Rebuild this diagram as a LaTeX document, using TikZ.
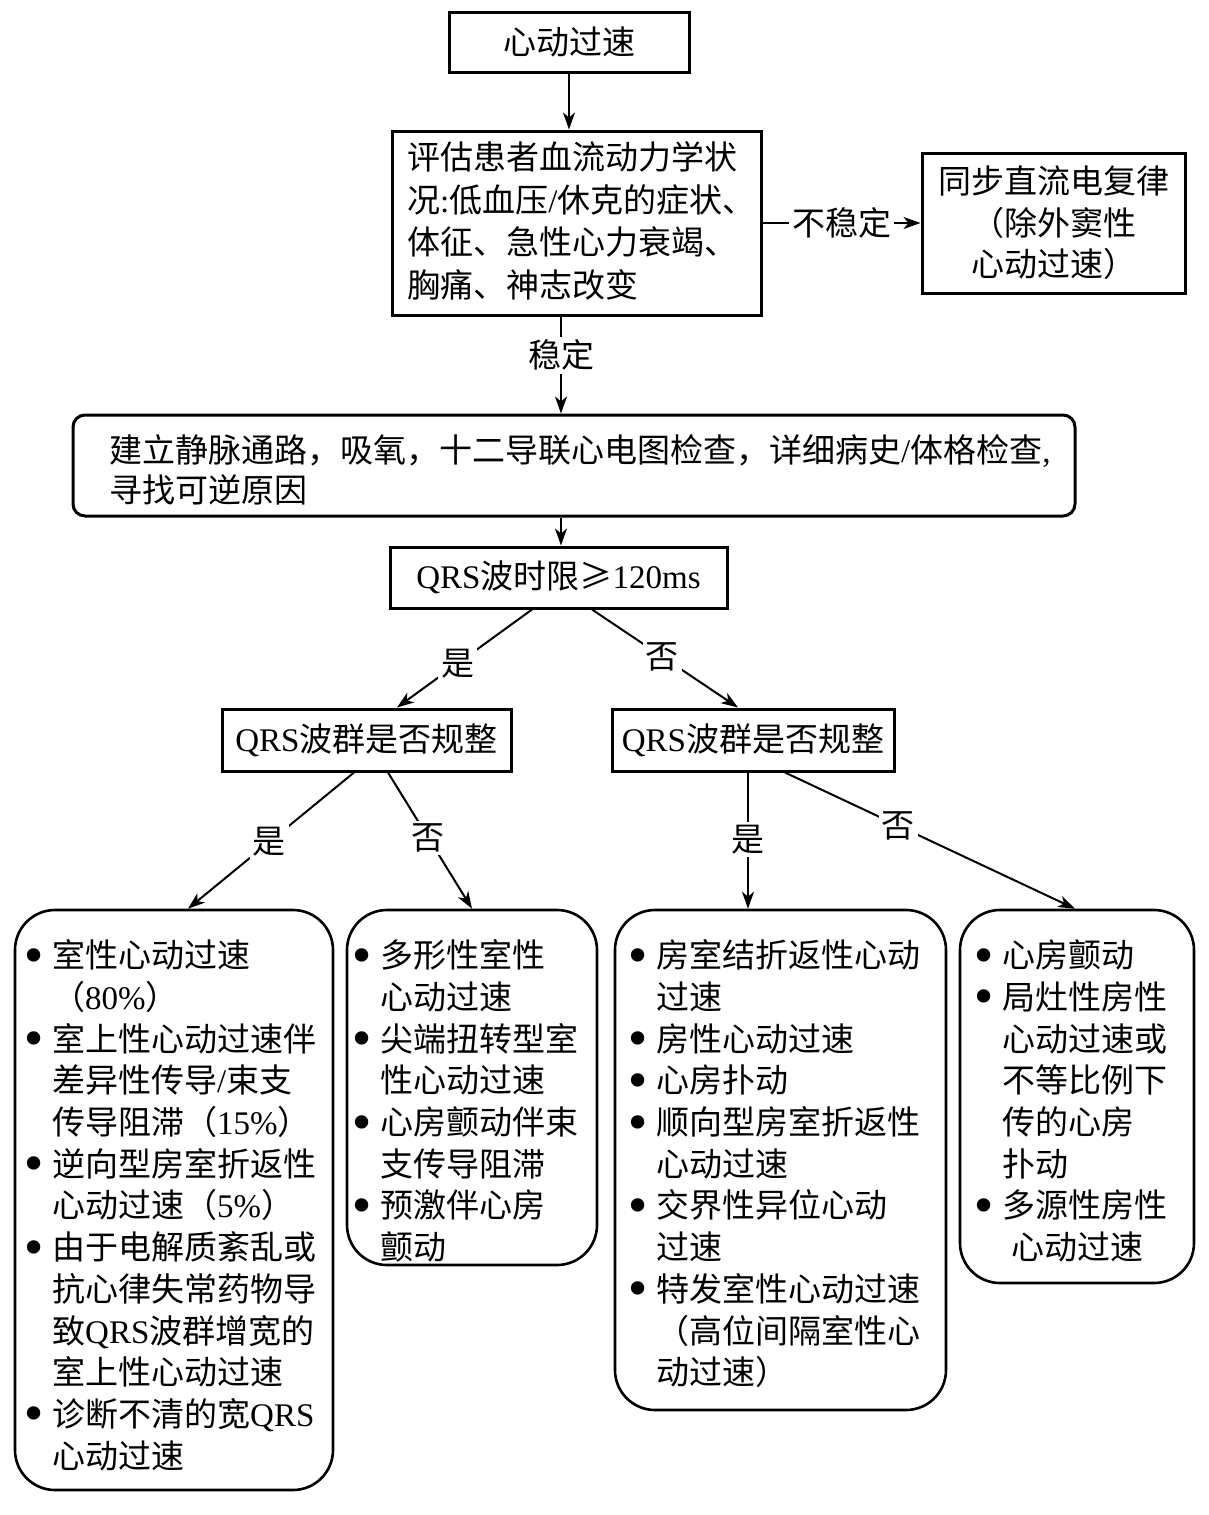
\documentclass[tikz,border=0pt]{standalone}
\usepackage{fontspec}
\setmainfont{Noto Sans CJK SC}
\newfontfamily\lat{Liberation Serif}
\newfontfamily\dejavu{DejaVu Sans}
\usetikzlibrary{arrows.meta}
\newcommand{\fsz}{\fontsize{33}{41.7}\selectfont}
\newcommand{\la}[1]{{\lat #1}}
\newcommand{\bl}{\makebox[36pt][c]{\raisebox{-4.5pt}{\dejavu\fontsize{46}{46}\selectfont\char"2022}}}
\newcommand{\ind}{\hspace*{36pt}}
\tikzset{
  box/.style={draw, line width=3pt, inner sep=0pt},
  rbox/.style={draw, line width=2.6pt, rounded corners=40pt, inner sep=0pt},
  txt/.style={inner sep=0pt, align=left, anchor=north west},
  arr/.style={line width=2pt, -{Stealth[length=17pt,width=12pt,inset=5pt]}},
  lbl/.style={fill=white, inner sep=3pt}
}
\begin{document}
\begin{tikzpicture}[x=1pt,y=-1pt,font=\fsz]
\path[use as bounding box, fill=white] (0,0) rectangle (1208,1515);

% boxes
\node[box, minimum width=240pt, minimum height=60pt] (b1) at (569,42) {心动过速};
\node[box, minimum width=369pt, minimum height=184pt] (b2) at (576.5,223) {};
\node[txt, font=\fontsize{33}{42.5}\selectfont] (t2) at (407,139.8)
  {\strut 评估患者血流动力学状\\况\la{:}低血压\la{/}休克的症状、\\体征、急性心力衰竭、\\胸痛、神志改变};
\node[box, minimum width=263pt, minimum height=140pt, align=center, font=\fontsize{33}{41.5}\selectfont] (b3) at (1053.5,223)
  {同步直流电复律\\（除外窦性\\心动过速）};
\node[box, rounded corners=12pt, minimum width=1002pt, minimum height=101pt] (b4) at (574,465.5) {};
\node[txt, font=\fontsize{33}{40}\selectfont] (t4) at (109,434.5)
  {\strut 建立静脉通路，吸氧，十二导联心电图检查，详细病史\la{/}体格检查\la{,}\\寻找可逆原因};
\node[box, minimum width=337pt, minimum height=61pt] (b5) at (558.5,577.5) {\la{QRS}波时限≥\la{120ms}};
\node[box, minimum width=289pt, minimum height=62pt] (b6) at (366.5,740) {\la{QRS}波群是否规整};
\node[box, minimum width=282pt, minimum height=62pt] (b7) at (753,740) {\la{QRS}波群是否规整};

\node[rbox, minimum width=318pt, minimum height=580pt] (bA) at (174,1200) {};
\node[rbox, minimum width=250pt, minimum height=355pt] (bB) at (472,1087.5) {};
\node[rbox, minimum width=331pt, minimum height=500pt] (bC) at (780.5,1160) {};
\node[rbox, minimum width=234pt, minimum height=373pt] (bD) at (1077,1096.5) {};

\node[txt] (tA) at (16,938.3)
  {\strut\bl 室性心动过速\\
   \ind（\la{80\%}）\\
   \bl 室上性心动过速伴\\
   \ind 差异性传导\la{/}束支\\
   \ind 传导阻滞（\la{15\%}）\\
   \bl 逆向型房室折返性\\
   \ind 心动过速（\la{5\%}）\\
   \bl 由于电解质紊乱或\\
   \ind 抗心律失常药物导\\
   \ind 致\la{QRS}波群增宽的\\
   \ind 室上性心动过速\\
   \bl 诊断不清的宽\la{QRS}\\
   \ind 心动过速};
\node[txt] (tB) at (344,938.3)
  {\strut\bl 多形性室性\\
   \ind 心动过速\\
   \bl 尖端扭转型室\\
   \ind 性心动过速\\
   \bl 心房颤动伴束\\
   \ind 支传导阻滞\\
   \bl 预激伴心房\\
   \ind 颤动};
\node[txt] (tC) at (620,938.3)
  {\strut\bl 房室结折返性心动\\
   \ind 过速\\
   \bl 房性心动过速\\
   \bl 心房扑动\\
   \bl 顺向型房室折返性\\
   \ind 心动过速\\
   \bl 交界性异位心动\\
   \ind 过速\\
   \bl 特发室性心动过速\\
   \ind（高位间隔室性心\\
   \ind 动过速）};
\node[txt] (tD) at (966,938.3)
  {\strut\bl 心房颤动\\
   \bl 局灶性房性\\
   \ind 心动过速或\\
   \ind 不等比例下\\
   \ind 传的心房\\
   \ind 扑动\\
   \bl 多源性房性\\
   \hspace*{45pt}心动过速};

% connectors
\draw[arr] (b1.south) -- (b1.south |- b2.north);
\draw[arr] (b2.east) -- node[lbl]{不稳定} (b3.west);
\draw[arr] ([xshift=-15.5pt]b2.south) -- node[lbl,pos=0.4]{稳定} ([xshift=-15.5pt]b2.south |- b4.north);
\draw[arr] ([xshift=-13pt]b4.south) -- ([xshift=-13pt]b4.south |- b5.north);
\draw[arr] ([xshift=-26.5pt]b5.south) -- node[lbl,pos=0.55]{是} ([xshift=30.5pt]b6.north);
\draw[arr] ([xshift=33.5pt]b5.south) -- node[lbl,pos=0.48]{否} ([xshift=-15pt]b7.north);
\draw[arr] ([xshift=-12.5pt]b6.south) -- node[lbl,pos=0.51]{是} ([xshift=14pt]bA.north);
\draw[arr] ([xshift=21.5pt]b6.south) -- node[lbl,pos=0.48]{否} (bB.north);
\draw[arr] ([xshift=-5pt]b7.south) -- node[lbl,pos=0.49]{是} ([xshift=-32.5pt]bC.north);
\draw[arr] ([xshift=32pt]b7.south) -- node[lbl,pos=0.39]{否} ([xshift=-2pt]bD.north);
\end{tikzpicture}
\end{document}
